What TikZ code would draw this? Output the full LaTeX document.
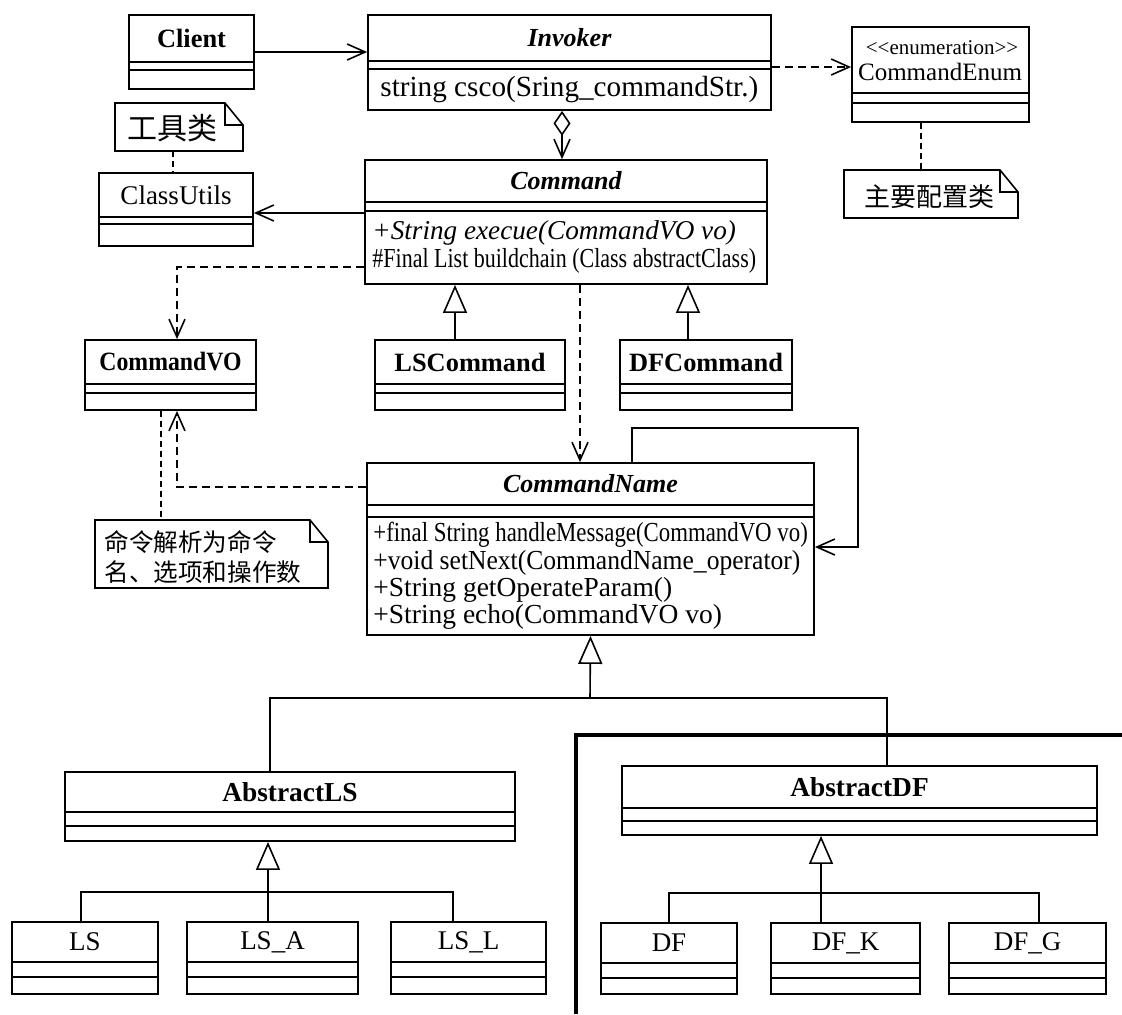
\documentclass[tikz,border=0pt]{standalone}
\usepackage{fontspec}
\usepackage{graphicx}
\setmainfont{Liberation Serif}
\newfontfamily\cjk{Noto Sans CJK SC}
\usetikzlibrary{arrows.meta,fit}

\tikzset{
  classbox/.style={draw,line width=0.9pt,inner sep=0pt},
  clsname/.style={font=\fontsize{13.2}{15}\selectfont\bfseries},
  clsabs/.style={font=\fontsize{13}{15}\selectfont\bfseries\itshape},
  clsplain/.style={font=\fontsize{13.5}{15}\selectfont},
  member/.style={anchor=west,inner sep=0pt,font=\fontsize{13.75}{15}\selectfont},
  notetext/.style={inner sep=0pt,font=\fontsize{13}{15}\cjk},
  assoc/.style={line width=0.8pt,-{Straight Barb[length=9pt,width=8pt]}},
  aggr/.style={line width=0.8pt,{Diamond[open,length=12.5pt,width=8.5pt]}-{Straight Barb[length=9pt,width=8pt]}},
  dep/.style={assoc,dash pattern=on 4pt off 2.5pt},
  gen/.style={line width=0.8pt,-{Triangle[open,length=14pt,width=12pt]}},
  tree/.style={line width=0.8pt},
  link/.style={line width=0.8pt,dash pattern=on 3pt off 2pt},
}

% class box: [title style]{name}{x1}{y1}{x2}{y2}{sep1}{sep2}{title}
\newcommand{\umlclass}[9][clsname]{%
  \node[classbox,fit={(#3,#4) (#5,#6)}] (#2) {};
  \draw[line width=0.9pt] (#3,#7) -- (#5,#7) (#3,#8) -- (#5,#8);
  \node[#1] (#2-t) at ({(#3+#5)/2},{(#4+#7)/2}) {#9};
}
% note with folded corner: {name}{x1}{y1}{x2}{y2}
\newcommand{\umlnote}[5]{%
  \node[inner sep=0pt,fit={(#2,#3) (#4,#5)}] (#1) {};
  \draw[line width=0.8pt] (#2,#3) -- ({#4-18},#3) -- (#4,{#3+22}) -- (#4,#5) -- (#2,#5) -- cycle
    ({#4-18},#3) |- (#4,{#3+22});
}

\begin{document}
\begin{tikzpicture}[x=0.5pt,y=-0.5pt]
\useasboundingbox (0,0) rectangle (1122,1014);

% top row
\umlclass{client}{129}{15}{254}{89}{62}{70}{Client}
\umlclass[clsabs]{invoker}{368}{15}{771}{110}{61}{69}{Invoker}
\node[member,font=\fontsize{14.6}{16}\selectfont] (invoker-op) at (380,90) {string csco(Sring\_commandStr.)};
\umlclass{enum}{852}{27}{1029}{122}{93}{103}{}
\node[font=\fontsize{10.5}{12}\selectfont] (enum-st) at (942,48) {<\kern0pt<enumeration>\kern0pt>};
\node[font=\fontsize{12.5}{14}\selectfont] (enum-n) at (940,72) {CommandEnum};

% notes
\umlnote{note1}{115}{103}{243}{151}
\node[notetext,font=\fontsize{15}{17}\cjk] (note1-t) at (172,128) {工具类};
\umlnote{note2}{844}{170}{1018}{218}
\node[notetext] (note2-t) at (929,197) {主要配置类};
\umlnote{note3}{95}{520}{328}{588}
\node[notetext,anchor=west,font=\fontsize{12.3}{14}\cjk] (note3-a) at (104,542) {命令解析为命令};
\node[notetext,anchor=west,font=\fontsize{12.3}{14}\cjk] (note3-b) at (104,572) {名、选项和操作数};

% command level
\umlclass[clsplain]{utils}{99}{173}{253}{246}{217}{224}{ClassUtils}
\umlclass[clsabs]{command}{365}{160}{767}{284}{202}{211}{Command}
\node[member,font=\fontsize{13.6}{15}\selectfont\itshape] (command-op1) at (372,233) {+String execue(CommandVO vo)};
\node[member] (command-op2) at (372,261) {\scalebox{0.8}[1]{\#Final List buildchain (Class abstractClass)}};
\umlclass{vo}{85}{340}{256}{410}{384}{393}{\scalebox{0.9}[1]{CommandVO}}
\umlclass{lscmd}{375}{340}{565}{410}{384}{393}{LSCommand}
\umlclass{dfcmd}{620}{340}{792}{410}{384}{393}{DFCommand}

% chain handler
\umlclass[clsabs]{cname}{367}{463}{814}{635}{505}{517}{CommandName}
\node[member] (cname-op1) at (373,535) {\scalebox{0.83}[1]{+final String handleMessage(CommandVO vo)}};
\node[member] (cname-op2) at (373,563) {\scalebox{0.93}[1]{+void setNext(CommandName\_operator)}};
\node[member] (cname-op3) at (373,590) {+String getOperateParam()};
\node[member] (cname-op4) at (373,617) {+String echo(CommandVO vo)};

% bottom classes
\umlclass[clsname,font=\fontsize{13.7}{15}\selectfont\bfseries]{absls}{65}{772}{515}{841}{812}{826}{AbstractLS}
\umlclass[clsname,font=\fontsize{13.7}{15}\selectfont\bfseries]{absdf}{622}{766}{1097}{835}{808}{821}{AbstractDF}
\umlclass[clsplain]{ls}{12}{922}{158}{994}{962}{977}{LS}
\umlclass[clsplain]{lsa}{187}{922}{358}{994}{962}{977}{LS\_A}
\umlclass[clsplain]{lsl}{391}{922}{546}{994}{962}{977}{LS\_L}
\umlclass[clsplain]{df}{601}{923}{737}{994}{963}{978}{DF}
\umlclass[clsplain]{dfk}{771}{923}{920}{994}{963}{978}{DF\_K}
\umlclass[clsplain]{dfg}{949}{923}{1106}{994}{963}{978}{DF\_G}

% connectors
\draw[assoc] (client.east) -- (client.east -| invoker.west);
\draw[dep] (invoker.east |- 0,67) -- (enum.west |- 0,67);
\draw[aggr] (562,0 |- invoker.south) -- (562,0 |- command.north);
\draw[assoc] (command.west |- 0,213) -- (utils.east |- 0,213);
\draw[dep] (command.west |- 0,267) -| (177,0 |- vo.north);
\draw[dep] (580,0 |- command.south) -- (580,0 |- cname.north);
\draw[gen] (455,0 |- lscmd.north) -- (455,0 |- command.south);
\draw[gen] (688,0 |- dfcmd.north) -- (688,0 |- command.south);
\draw[dep] (cname.west |- 0,487) -| (177,0 |- vo.south);
\draw[link] (173,0 |- note1.south) -- (173,0 |- utils.north);
\draw[link] (921,0 |- enum.south) -- (921,0 |- note2.north);
\draw[link] (161,0 |- vo.south) -- (161,0 |- note3.north);

% successor link
\coordinate (loop) at (858,428);
\draw[assoc] (632,0 |- cname.north) |- (loop) |- (cname.east |- 0,547);

% inheritance trees
\coordinate (bus1) at (590,698);
\draw[tree] (270,0 |- absls.north) |- (bus1) -| (887,0 |- absdf.north);
\draw[gen] (bus1) -- (cname.south);
\coordinate (bus2) at (268,892);
\draw[tree] (81,0 |- ls.north) |- (bus2) -| (453,0 |- lsl.north);
\draw[tree] (268,0 |- lsa.north) -- (bus2);
\draw[gen] (bus2) -- (268,0 |- absls.south);
\coordinate (bus3) at (821,893);
\draw[tree] (669,0 |- df.north) |- (bus3) -| (1039,0 |- dfg.north);
\draw[tree] (821,0 |- dfk.north) -- (bus3);
\draw[gen] (bus3) -- (821,0 |- absdf.south);

% frame round the DF group
\draw[line width=1.6pt] (1122,735) -- (576,735) -- (576,1014);
\end{tikzpicture}
\end{document}
